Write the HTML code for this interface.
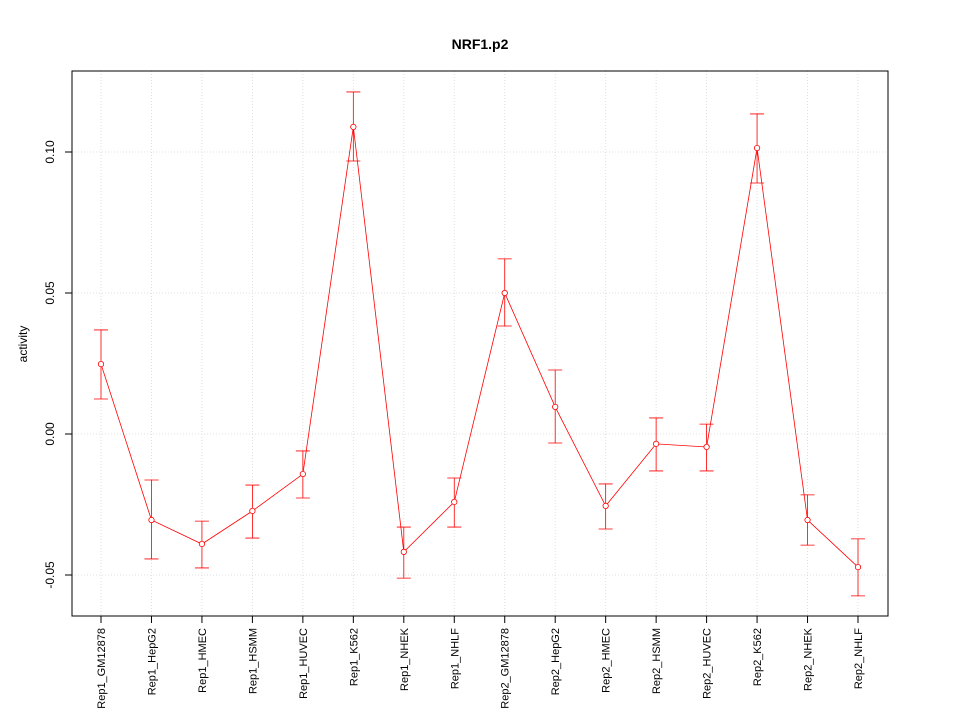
<!DOCTYPE html>
<html><head><meta charset="utf-8"><style>
body{margin:0;background:#fff}
svg text{font-family:"Liberation Sans",sans-serif}
</style></head><body>
<svg id="chart" width="960" height="720">
<rect x="0" y="0" width="960" height="720" fill="#fff"/>
<text x="480" y="49" text-anchor="middle" font-size="14" font-weight="bold">NRF1.p2</text>
<text transform="translate(27,344) rotate(-90)" text-anchor="middle" font-size="12">activity</text>
<g id="grid"></g><g id="axes"></g><g id="marks"></g>
<rect x="72" y="71" width="816" height="545" fill="none" stroke="#000"/>
</svg>
<script>
const categories=["Rep1_GM12878","Rep1_HepG2","Rep1_HMEC","Rep1_HSMM","Rep1_HUVEC","Rep1_K562","Rep1_NHEK","Rep1_NHLF","Rep2_GM12878","Rep2_HepG2","Rep2_HMEC","Rep2_HSMM","Rep2_HUVEC","Rep2_K562","Rep2_NHEK","Rep2_NHLF"];
const values=[0.0248,-0.0305,-0.039,-0.0273,-0.0142,0.1089,-0.0418,-0.0241,0.05,0.0096,-0.0255,-0.0035,-0.0046,0.1014,-0.0305,-0.0472];
const upper=[0.0369,-0.0163,-0.0309,-0.0181,-0.006,0.1213,-0.033,-0.0156,0.0621,0.0227,-0.0177,0.0057,0.0035,0.1135,-0.0216,-0.0372];
const lower=[0.0124,-0.0443,-0.0475,-0.0369,-0.0227,0.0968,-0.0511,-0.033,0.0383,-0.0032,-0.0337,-0.0131,-0.0131,0.089,-0.0394,-0.0574];
const yTicks=[-0.05,0,0.05,0.10];
const yTickLabels=["-0.05","0.00","0.05","0.10"];
const NS="http://www.w3.org/2000/svg";
const xs=i=>101+i*(858-101)/(categories.length-1);
const ys=v=>434-v*2820;
function mk(parent,tag,attrs){const e=document.createElementNS(NS,tag);for(const k in attrs)e.setAttribute(k,attrs[k]);document.getElementById(parent).appendChild(e);return e;}
yTicks.forEach((t,i)=>{
 let g=mk('grid','line',{x1:72,x2:888,y1:ys(t),y2:ys(t),stroke:'#d8d8d8','stroke-width':0.8,'stroke-dasharray':'1,2'});
 
 
 let tk=mk('axes','line',{x1:65,x2:72,y1:ys(t),y2:ys(t),stroke:'#000'});
 
 
 let tx=mk('axes','text',{transform:`translate(54,${ys(t)}) rotate(-90)`,'text-anchor':'middle','font-size':12});
 tx.textContent=yTickLabels[i];
 
 
});
categories.forEach((c,i)=>{
 const x=xs(i);
 let g=mk('grid','line',{x1:x,x2:x,y1:71,y2:616,stroke:'#d8d8d8','stroke-width':0.8,'stroke-dasharray':'1,2'});
 
 
 let tk=mk('axes','line',{x1:x,x2:x,y1:616,y2:623,stroke:'#000'});
 
 
 let tx=mk('axes','text',{transform:`translate(${x+4},628) rotate(-90)`,'text-anchor':'end','font-size':11});
 tx.textContent=c;
 
 
});
let pts=values.map((v,i)=>xs(i)+','+ys(v)).join(' ');
let pl=mk('marks','polyline',{points:pts,fill:'none',stroke:'#f00','stroke-width':0.8});


values.forEach((v,i)=>{
 const x=xs(i);
 let eb=mk('marks','path',{d:`M${x},${ys(upper[i])}V${ys(lower[i])}M${x-7},${ys(upper[i])}H${x+7}M${x-7},${ys(lower[i])}H${x+7}`,stroke:'#f00',fill:'none','stroke-width':0.8});
 
 
 let p=mk('marks','circle',{cx:x,cy:ys(v),r:2.7,fill:'#fff',stroke:'#f00','stroke-width':0.8});
 
 
});
</script>
</body></html>
